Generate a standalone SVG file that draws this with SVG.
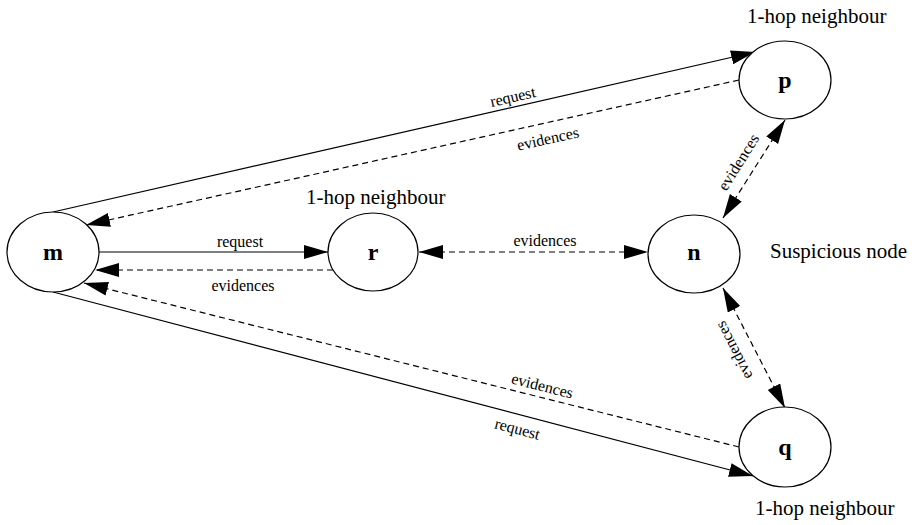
<svg xmlns="http://www.w3.org/2000/svg" width="921" height="525" viewBox="0 0 921 525">
<style>
.node ellipse{fill:#fff;stroke:#000;stroke-width:1.2}
.nl{font-family:"Liberation Serif","Times New Roman",serif;font-weight:bold;font-size:24px;text-anchor:middle}
.lab{font-family:"Liberation Serif","Times New Roman",serif;font-size:21px}
.el{font-family:"Liberation Serif","Times New Roman",serif;font-size:16px;text-anchor:middle}
.solid{stroke:#000;stroke-width:1.2;fill:none}
.dash{stroke:#000;stroke-width:1.2;fill:none;stroke-dasharray:6,4}
</style>
<defs>
<marker id="ah" markerUnits="userSpaceOnUse" markerWidth="26" markerHeight="16" refX="24" refY="7" orient="auto-start-reverse">
<path d="M0,0 L24,7 L0,14 z" fill="#000"/>
</marker>
</defs>
<rect width="921" height="525" fill="#fff"/>
<g id="connectors">
<line class="solid" x1="53" y1="212" x2="755" y2="52" marker-end="url(#ah)"/>
<line class="dash" x1="739" y1="80" x2="86" y2="225" marker-end="url(#ah)"/>
<line class="solid" x1="99" y1="252" x2="328" y2="252" marker-end="url(#ah)"/>
<line class="dash" x1="333" y1="270" x2="95" y2="270" marker-end="url(#ah)"/>
<line class="dash" x1="419" y1="252" x2="648" y2="252" marker-start="url(#ah)" marker-end="url(#ah)"/>
<line class="dash" x1="739" y1="447" x2="84" y2="283" marker-end="url(#ah)"/>
<line class="solid" x1="53" y1="292" x2="753" y2="476" marker-end="url(#ah)"/>
<line class="dash" x1="723" y1="218" x2="785" y2="120" marker-start="url(#ah)" marker-end="url(#ah)"/>
<line class="dash" x1="723" y1="288" x2="785" y2="408" marker-start="url(#ah)" marker-end="url(#ah)"/>
<text class="el" x="514" y="102" transform="rotate(-12.8 514 102)">request</text>
<text class="el" x="549" y="144" transform="rotate(-12.5 549 144)">evidences</text>
<text class="el" x="240" y="247">request</text>
<text class="el" x="243" y="291">evidences</text>
<text class="el" x="545" y="246">evidences</text>
<text class="el" x="541" y="391" transform="rotate(14 541 391)">evidences</text>
<text class="el" x="516" y="434" transform="rotate(14.7 516 434)">request</text>
<text class="el" x="743" y="165" transform="rotate(-57.7 743 165)">evidences</text>
<text class="el" x="738.5" y="348" transform="rotate(-117.3 738.5 348)">evidences</text>
</g>
<g id="node-m" class="node"><ellipse cx="53" cy="252" rx="46" ry="40"/><text class="nl" x="53" y="260">m</text></g>
<g id="node-r" class="node"><ellipse cx="373" cy="252" rx="45" ry="39"/><text class="nl" x="373" y="260">r</text><text class="lab" x="306" y="204">1-hop neighbour</text></g>
<g id="node-n" class="node"><ellipse cx="694" cy="254" rx="46" ry="39"/><text class="nl" x="694" y="260">n</text><text class="lab" x="770" y="258">Suspicious node</text></g>
<g id="node-p" class="node"><ellipse cx="785" cy="80" rx="46" ry="39"/><text class="nl" x="785" y="88">p</text><text class="lab" x="747" y="23">1-hop neighbour</text></g>
<g id="node-q" class="node"><ellipse cx="785" cy="447" rx="46" ry="40"/><text class="nl" x="785" y="455">q</text><text class="lab" x="755" y="515">1-hop neighbour</text></g>
</svg>
